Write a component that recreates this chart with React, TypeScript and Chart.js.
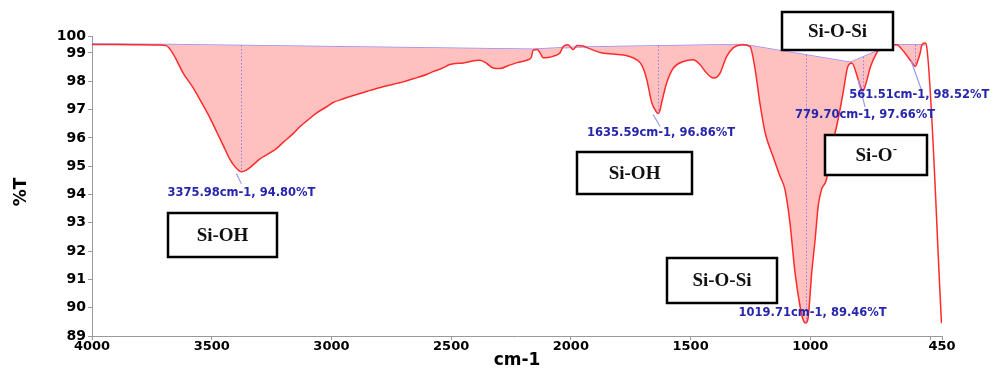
import React, { useEffect, useRef } from 'react';
import { Chart, registerables } from 'chart.js';
Chart.register(...registerables);

// ---------- DATA ----------
const spectrumWavenumbers = [
  4000, 3900, 3800, 3720, 3690, 3660, 3620, 3580, 3549, 3510, 3478, 3450, 3424, 3400, 3376, 3355, 3340,
  3300, 3269, 3230, 3202, 3160, 3131, 3100, 3060, 3020, 2993, 2950, 2922, 2850, 2785, 2700, 2643, 2600,
  2576, 2540, 2505, 2450, 2380, 2350, 2325, 2296, 2260, 2225, 2179, 2165, 2158, 2141, 2125, 2116, 2090,
  2075, 2045, 2033, 2012, 1991, 1974, 1950, 1933, 1878, 1820, 1766, 1741, 1711, 1695, 1683, 1662, 1645,
  1636, 1628, 1621, 1600, 1572, 1530, 1489, 1461, 1433, 1405, 1390, 1377, 1349, 1322, 1280, 1252, 1231,
  1210, 1189, 1156, 1127, 1106, 1085, 1064, 1043, 1031, 1020, 1010, 994, 980, 967, 953, 932, 918, 900,
  884, 863, 843, 827, 800, 790, 780, 770, 748, 723, 709, 680, 655, 640, 610, 584, 570, 561.5, 550, 541,
  534, 521, 514, 452,
];
const spectrumTransmittance = [
  99.30, 99.30, 99.29, 99.28, 99.26, 98.95, 98.30, 97.80, 97.35, 96.75, 96.19, 95.70, 95.24, 94.95, 94.80, 94.86, 94.95,
  95.25, 95.41, 95.62, 95.84, 96.15, 96.40, 96.62, 96.89, 97.10, 97.25, 97.38, 97.46, 97.65, 97.81, 97.98, 98.13, 98.25,
  98.34, 98.45, 98.59, 98.65, 98.74, 98.62, 98.47, 98.45, 98.56, 98.66, 98.76, 98.85, 99.09, 99.12, 98.95, 98.83, 98.85,
  98.88, 99.01, 99.22, 99.29, 99.12, 99.26, 99.25, 99.19, 99.02, 98.96, 98.90, 98.83, 98.66, 98.40, 98.06, 97.24, 96.95,
  96.86, 96.98, 97.24, 97.94, 98.47, 98.70, 98.76, 98.59, 98.29, 98.12, 98.15, 98.29, 98.88, 99.18, 99.29, 99.23, 98.45,
  97.20, 96.19, 95.35, 94.65, 94.18, 93.00, 91.25, 90.06, 89.60, 89.46, 89.60, 91.25, 92.40, 93.60, 94.18, 94.55, 95.45, 96.05,
  96.65, 97.60, 98.53, 98.65, 98.06, 97.80, 97.66, 97.85, 98.53, 99.00, 99.19, 99.27, 99.29, 99.29, 99.05, 98.76, 98.60, 98.52, 98.75, 99.01,
  99.29, 99.35, 99.22, 89.45,
];

const baselineWavenumbers = [4000, 3690, 2160, 1990, 1280, 834, 723, 655, 521];
const baselineTransmittance = [99.32, 99.30, 99.13, 99.20, 99.30, 98.67, 99.06, 99.29, 99.29];

const peakWavenumbers = [3375.98, 1635.59, 1019.71, 779.7, 561.51];
const peakTransmittance = [94.8, 96.86, 89.46, 97.66, 98.52];

const xTickValues = [4000, 3500, 3000, 2500, 2000, 1500, 1000, 500, 450];
const xTickLabels = ['4000', '3500', '3000', '2500', '2000', '1500', '1000', '', '450'];
const yTickValues = [89, 90, 91, 92, 93, 94, 95, 96, 97, 98, 99, 99.6];
const yTickLabels = ['89', '90', '91', '92', '93', '94', '95', '96', '97', '98', '99', '100'];

const boxLabels = ['Si-OH', 'Si-OH', 'Si-O-Si', 'Si-O', 'Si-O-Si'];
const boxSuperscripts = ['', '', '', '-', ''];
const boxWavenumbers = [3455, 1734, 886.5, 725.6, 1369];
const boxTransmittance = [92.57, 94.76, 99.78, 95.4, 90.96];

const xTitle = 'cm-1';
const yTitle = '%T';

// ---------- LAYOUT / STYLE (pixels) ----------
const W = 994;
const H = 369;
const labelOffsets = [[0, 21], [3, 19], [7, -10], [2, 24], [4, 28]];
const leaderLines = [[-5, 2, 0, 12], [-5, 1, 2, 13], null, [-5, -11, 2, 16], [-4, -5, 6, 23]];
const boxSizes = [[109, 44], [115, 42], [111, 38], [102, 40], [110, 45]];

const annotationPlugin = {
  id: 'annotations',
  afterDatasetsDraw(chart: any) {
    const { ctx, scales } = chart;
    const xs = scales.x;
    const ys = scales.y;
    const baseLine = chart.getDatasetMeta(1).dataset;
    ctx.save();
    // peaks
    peakWavenumbers.forEach((wn, i) => {
      const px = xs.getPixelForValue(wn);
      const py = ys.getPixelForValue(peakTransmittance[i]);
      let by = ys.getPixelForValue(99.3);
      const ip = baseLine && baseLine.interpolate ? baseLine.interpolate({ x: px }, 'x') : null;
      if (ip && isFinite(ip.y)) by = ip.y;
      ctx.strokeStyle = '#8c7ff0';
      ctx.lineWidth = 1;
      ctx.setLineDash([1.5, 2]);
      ctx.beginPath();
      ctx.moveTo(Math.round(px) + 0.5, by);
      ctx.lineTo(Math.round(px) + 0.5, py);
      ctx.stroke();
      ctx.setLineDash([]);
      const ll = leaderLines[i];
      if (ll) {
        ctx.strokeStyle = '#9a9af2';
        ctx.lineWidth = 1.2;
        ctx.beginPath();
        ctx.moveTo(px + ll[0], py + ll[1]);
        ctx.lineTo(px + ll[2], py + ll[3]);
        ctx.stroke();
      }
      const text = `${wn.toFixed(2)}cm-1, ${peakTransmittance[i].toFixed(2)}%T`;
      ctx.font = 'bold 11.5px "DejaVu Sans"';
      ctx.fillStyle = '#2626ac';
      ctx.textAlign = 'center';
      ctx.textBaseline = 'middle';
      ctx.fillText(text, px + labelOffsets[i][0], py + labelOffsets[i][1]);
    });
    // boxes
    boxLabels.forEach((label, i) => {
      const cx = xs.getPixelForValue(boxWavenumbers[i]);
      const cy = ys.getPixelForValue(boxTransmittance[i]);
      const [bw, bh] = boxSizes[i];
      const l = Math.round(cx - bw / 2);
      const t = Math.round(cy - bh / 2);
      ctx.fillStyle = '#ffffff';
      ctx.fillRect(l, t, bw, bh);
      ctx.strokeStyle = '#000000';
      ctx.lineWidth = 2.5;
      ctx.strokeRect(l, t, bw, bh);
      ctx.font = 'bold 19px "Liberation Serif"';
      ctx.fillStyle = '#111111';
      ctx.textBaseline = 'middle';
      const sup = boxSuperscripts[i];
      const mainW = ctx.measureText(label).width;
      ctx.font = 'bold 12px "Liberation Serif"';
      const supW = sup ? ctx.measureText(sup).width : 0;
      const startX = cx - (mainW + supW) / 2;
      ctx.font = 'bold 19px "Liberation Serif"';
      ctx.textAlign = 'left';
      ctx.fillText(label, startX, cy + 1);
      if (sup) {
        ctx.font = 'bold 12px "Liberation Serif"';
        ctx.fillText(sup, startX + mainW + 0.5, cy - 5);
      }
    });
    // axis titles
    ctx.fillStyle = '#000000';
    ctx.font = 'bold 17px "DejaVu Sans"';
    ctx.textAlign = 'center';
    ctx.textBaseline = 'middle';
    ctx.fillText(xTitle, (chart.chartArea.left + chart.chartArea.right) / 2, 361);
    ctx.translate(22, (chart.chartArea.top + chart.chartArea.bottom) / 2 + 6);
    ctx.rotate(-Math.PI / 2);
    ctx.fillText(yTitle, 0, 0);
    ctx.restore();
  },
};

export default function App() {
  const ref = useRef<HTMLCanvasElement>(null);
  useEffect(() => {
    const canvas = ref.current;
    if (!canvas) return;
    const spectrum = spectrumWavenumbers.map((x, i) => ({ x, y: spectrumTransmittance[i] }));
    const baseline = baselineWavenumbers.map((x, i) => ({ x, y: baselineTransmittance[i] }));
    const chart = new Chart(canvas, {
      type: 'line',
      data: {
        datasets: [
          {
            data: spectrum,
            borderColor: '#ff2b2b',
            borderWidth: 1.5,
            pointRadius: 0,
            cubicInterpolationMode: 'monotone',
            fill: 1,
            backgroundColor: '#ffc0c0',
          },
          {
            data: baseline,
            borderColor: '#9090ff',
            borderWidth: 1.5,
            pointRadius: 0,
            fill: false,
            tension: 0,
          },
        ],
      } as any,
      options: {
        responsive: false,
        animation: false,
        devicePixelRatio: 1,
        parsing: true,
        layout: { padding: { top: 36, right: 52, bottom: 0, left: 0 } },
        plugins: { legend: { display: false }, tooltip: { enabled: false }, title: { display: false } },
        scales: {
          x: {
            type: 'linear',
            reverse: true,
            min: 450,
            max: 4000,
            afterBuildTicks: (s: any) => {
              s.ticks = xTickValues.map((v) => ({ value: v }));
            },
            afterFit: (s: any) => {
              s.height = 33;
            },
            ticks: {
              autoSkip: false,
              maxRotation: 0,
              padding: -1,
              color: '#000',
              font: { family: 'DejaVu Sans', weight: 'bold', size: 13 },
              callback: (v: any) => xTickLabels[xTickValues.indexOf(Number(v))] ?? '',
            },
            grid: { display: true, drawOnChartArea: false, drawTicks: true, tickLength: 4, color: '#9a9a9a' },
            border: { display: true, color: '#9a9a9a' },
          },
          y: {
            type: 'linear',
            min: 89,
            max: 99.6,
            afterBuildTicks: (s: any) => {
              s.ticks = yTickValues.map((v) => ({ value: v }));
            },
            afterFit: (s: any) => {
              s.width = 92;
            },
            ticks: {
              autoSkip: false,
              padding: 2,
              color: '#000',
              font: { family: 'DejaVu Sans', weight: 'bold', size: 14 },
              callback: (v: any) => yTickLabels[yTickValues.indexOf(Number(v))] ?? '',
            },
            grid: { display: true, drawOnChartArea: false, drawTicks: true, tickLength: 4, color: '#9a9a9a' },
            border: { display: true, color: '#9a9a9a' },
          },
        },
      } as any,
      plugins: [annotationPlugin],
    });
    return () => chart.destroy();
  }, []);
  return (
    <div style={{ position: 'fixed', left: 0, top: 0, width: W, height: H, background: '#ffffff' }}>
      <canvas ref={ref} width={W} height={H} style={{ width: W, height: H, display: 'block' }} />
    </div>
  );
}
